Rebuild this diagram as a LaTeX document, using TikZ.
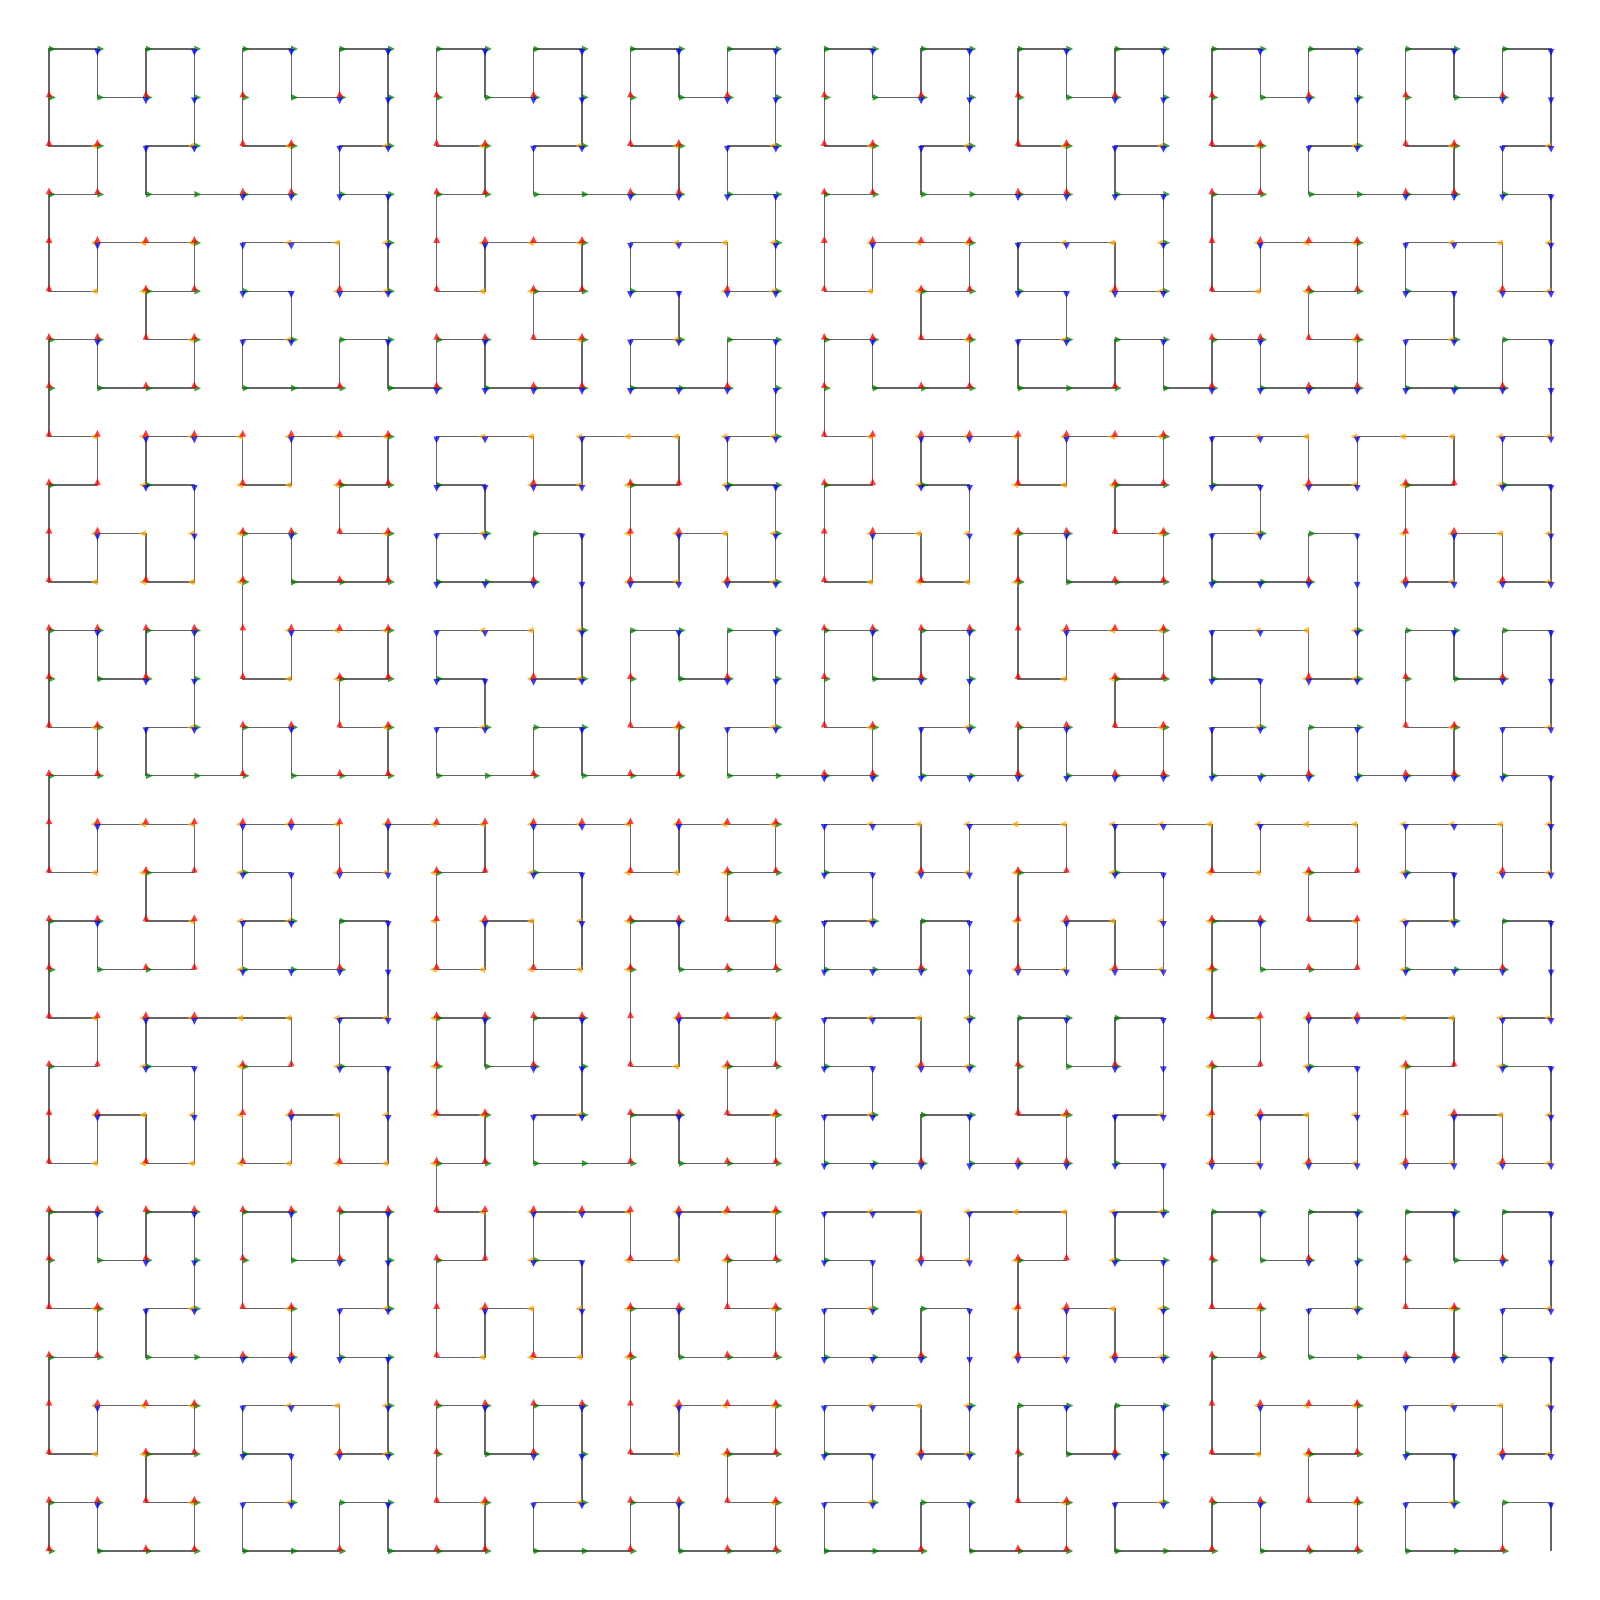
\documentclass[tikz,border=0pt]{standalone}
\usepackage{tikz}
\definecolor{hilGris}{HTML}{666666}
\definecolor{hilRojo}{HTML}{FF0000}
\definecolor{hilAzul}{HTML}{0000FF}
\definecolor{hilVerde}{HTML}{008000}
\definecolor{hilNaranja}{HTML}{FFA500}
\tikzset{
  trazo/.style={draw=hilGris, line width=0.4pt},
  punta/.pic={\fill (0,-0.068) -- (0.138,0) -- (0,0.068) -- cycle;},
  flechaArriba/.style={fill=hilRojo, fill opacity=0.75, rotate=90},
  flechaAbajo/.style={fill=hilAzul, fill opacity=0.75, rotate=-90},
  flechaDerecha/.style={fill=hilVerde, fill opacity=0.75},
  flechaIzquierda/.style={fill=hilNaranja, fill opacity=0.75, rotate=180},
}
% indice d -> punto (x,y) de la curva de Hilbert 32x32
\newcount\hcx \newcount\hcy \newcount\hct \newcount\hcs
\newcount\hcrx \newcount\hcry \newcount\hcaux
\newcommand\hilbertXY[1]{%
  \hcx=0 \hcy=0 \hct=#1 \hcs=1
  \loop
    \hcrx=\hct \divide\hcrx by 2
    \hcaux=\hcrx \divide\hcaux by 2 \multiply\hcaux by 2
    \advance\hcrx by -\hcaux
    \hcaux=\hct \divide\hcaux by 2 \multiply\hcaux by 2
    \hcry=\hct \advance\hcry by -\hcaux
    \ifnum\hcry=\hcrx \hcry=0 \else \hcry=1 \fi
    \ifnum\hcry=0
      \ifnum\hcrx=1
        \hcx=\numexpr\hcs-1-\hcx\relax
        \hcy=\numexpr\hcs-1-\hcy\relax
      \fi
      \hcaux=\hcx \hcx=\hcy \hcy=\hcaux
    \fi
    \advance\hcx by \numexpr\hcs*\hcrx\relax
    \advance\hcy by \numexpr\hcs*\hcry\relax
    \divide\hct by 4
    \multiply\hcs by 2
  \ifnum\hcs<32 \repeat
}

\begin{document}
\begin{tikzpicture}[x=0.5cm,y=0.5cm]
  \useasboundingbox (-1.011,-1.011) rectangle (32.011,32.011);
  % puntos de la curva
  \foreach \d in {0,...,1023}{
    \hilbertXY{\d}
    \expandafter\xdef\csname hilX\d\endcsname{\the\hcx}
    \expandafter\xdef\csname hilY\d\endcsname{\the\hcy}
    \expandafter\xdef\csname hilD-\the\hcx-\the\hcy\endcsname{\d}
    \coordinate (h-\d) at (\the\hcx,\the\hcy);
  }
  \draw[trazo] (h-0) foreach \d in {1,...,1023}{ -- (h-\d)};
  % flechas hacia los vecinos de indice mayor
  \foreach \d in {0,...,1022}{
    \edef\posX{\csname hilX\d\endcsname}
    \edef\posY{\csname hilY\d\endcsname}
    \ifnum\posX>0
      \ifnum\csname hilD-\the\numexpr\posX-1\relax-\posY\endcsname>\d\relax
        \pic[flechaIzquierda] at (h-\d) {punta};
      \fi
    \fi
    \ifnum\posX<31
      \ifnum\csname hilD-\the\numexpr\posX+1\relax-\posY\endcsname>\d\relax
        \pic[flechaDerecha] at (h-\d) {punta};
      \fi
    \fi
    \ifnum\posY<31
      \ifnum\csname hilD-\posX-\the\numexpr\posY+1\relax\endcsname>\d\relax
        \pic[flechaArriba] at (h-\d) {punta};
      \fi
    \fi
    \ifnum\posY>0
      \ifnum\csname hilD-\posX-\the\numexpr\posY-1\relax\endcsname>\d\relax
        \pic[flechaAbajo] at (h-\d) {punta};
      \fi
    \fi
  }
\end{tikzpicture}
\end{document}
